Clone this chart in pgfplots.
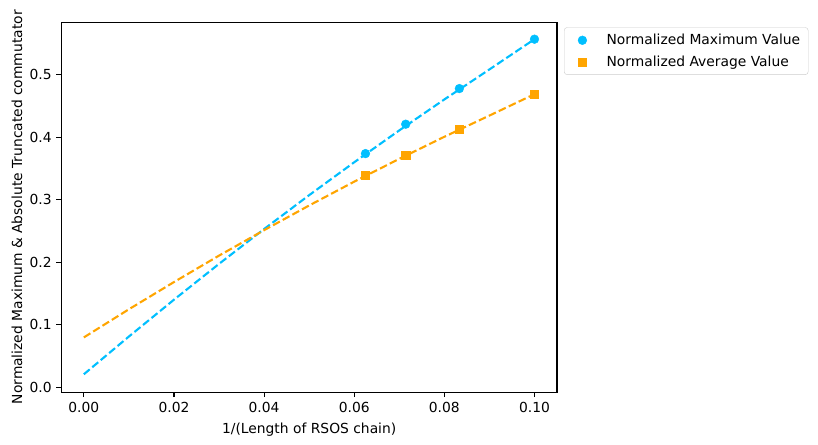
\documentclass[border=0pt]{standalone}
\usepackage{pgfplots}
\pgfplotsset{compat=1.18}
\usepackage{fontspec}
\setmainfont{DejaVu Sans}
\definecolor{skyb}{RGB}{0,191,255}
\definecolor{orng}{RGB}{255,165,0}
\begin{document}
\fontsize{13.9}{16.7}\selectfont
\begin{tikzpicture}
\path[use as bounding box] (-61.3bp,-52.7bp) rectangle (756.7bp,392.3bp);
\begin{axis}[
  at={(0,0)}, anchor=south west,
  scale only axis, width=495.7bp, height=370bp,
  xmin=-0.005, xmax=0.105, ymin=-0.0078, ymax=0.584,
  xtick={0,0.02,0.04,0.06,0.08,0.1},
  ytick={0,0.1,0.2,0.3,0.4,0.5},
  scaled ticks=false,
  xticklabel style={/pgf/number format/.cd, fixed, fixed zerofill, precision=2},
  yticklabel style={/pgf/number format/.cd, fixed, fixed zerofill, precision=1},
  /pgf/number format/assume math mode=true,
  ticklabel style={font=\fontsize{13.9}{16.7}\selectfont},
  tick align=outside, xtick pos=bottom, ytick pos=left,
  major tick length=4.9bp,
  tick style={black, line width=1.1bp},
  axis line style={line width=1.1bp},
  xlabel={1/(Length of RSOS chain)},
  ylabel={Normalized Maximum \& Absolute Truncated commutator},
  xlabel style={at={(axis description cs:0.5,-0.1),}, anchor=center, font=\fontsize{13.9}{16.7}\selectfont},
  ylabel style={at={(axis description cs:-0.0894,0.5)}, anchor=center, rotate=0, font=\fontsize{13.9}{16.7}\selectfont},
  legend style={at={(1,1)}, anchor=north west, xshift=7bp, yshift=-5bp,
    draw=black!20, rounded corners=3bp, font=\fontsize{13.9}{16.7}\selectfont,
    inner xsep=3bp, inner ysep=4.5bp, row sep=5bp,
    nodes={inner xsep=5bp}},
  legend cell align=left,
  legend image code/.code={\path (0bp,0bp) (34bp,0bp); \draw[#1] plot coordinates {(15bp,0bp)};},
]
\addplot[skyb, dashed, line width=2.1bp, dash pattern=on 7.7bp off 3.3bp, forget plot] coordinates {
(0,0.021) (0.01,0.0814) (0.02,0.1403) (0.03,0.1976) (0.04,0.2533) (0.05,0.3075)
(0.06,0.3601) (0.07,0.4111) (0.08,0.4606) (0.09,0.5086) (0.1,0.557)};
\addplot[orng, dashed, line width=2.1bp, dash pattern=on 7.7bp off 3.3bp, forget plot] coordinates {
(0,0.080) (0.01,0.1250) (0.02,0.1685) (0.03,0.2108) (0.04,0.2515) (0.05,0.2910)
(0.06,0.3291) (0.07,0.3656) (0.08,0.4009) (0.09,0.4348) (0.1,0.469)};
\addplot[only marks, mark=*, mark size=4.4bp, skyb, mark options={draw=skyb, fill=skyb}] coordinates {
(0.0625,0.374) (0.0714286,0.421) (0.0833333,0.478) (0.1,0.557)};
\addlegendentry{Normalized Maximum Value}
\addplot[only marks, mark=square*, mark size=4.1bp, orng, mark options={draw=orng, fill=orng}] coordinates {
(0.0625,0.340) (0.0714286,0.372) (0.0833333,0.413) (0.1,0.469)};
\addlegendentry{Normalized Average Value}
\end{axis}
\end{tikzpicture}
\end{document}
